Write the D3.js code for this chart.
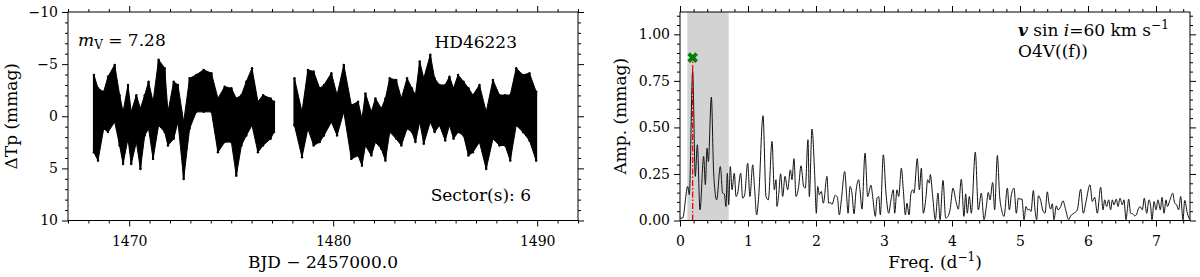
<!DOCTYPE html>
<html>
<head>
<meta charset="utf-8">
<script src="https://cdn.jsdelivr.net/npm/d3@7"></script>
<style>
  body { margin: 0; background: #fff; }
  svg { display: block; font-family: "DejaVu Serif", serif; }
  .tick text { font-family: "DejaVu Serif", serif; font-size: 14px; fill: #000; }
</style>
</head>
<body>
<svg id="chart" width="1200" height="277"></svg>
<script>
// light curve, read as the upper / lower edge of the point cloud per time step
const lcTime = [1468.27, 1468.47, 1468.75, 1468.96, 1469.29, 1469.53, 1469.70, 1469.94, 1470.10, 1470.35,
  1470.55, 1470.76, 1470.95, 1471.17, 1471.44, 1471.74, 1471.90, 1472.18, 1472.39, 1472.67,
  1472.96, 1473.29, 1473.65, 1474.03, 1474.35, 1474.68, 1475.01, 1475.25, 1475.50, 1475.74,
  1476.02, 1476.31, 1476.56, 1476.93, 1477.10,
  1478.10, 1478.47, 1478.76, 1479.04, 1479.34, 1479.55, 1479.91, 1480.19, 1480.52, 1480.89,
  1481.22, 1481.41, 1481.58, 1481.87, 1482.07, 1482.36, 1482.56, 1482.77, 1483.09, 1483.34,
  1483.62, 1483.86, 1484.03, 1484.24, 1484.44, 1484.76, 1484.97, 1485.21, 1485.49, 1485.70,
  1485.90, 1486.12, 1486.39, 1486.63, 1486.85, 1487.17, 1487.50, 1487.83, 1488.15, 1488.43,
  1488.68, 1488.97, 1489.30, 1489.62, 1489.95];
const lcTop = [-3.97, -2.68, -2.35, -3.80, -4.93, -2.03, -0.42, -3.00, -0.42, -2.03,
  -0.74, -2.03, -3.32, -1.39, -5.42, -4.61, -0.42, -3.32, -3.00, 0.55,
  -3.64, -3.97, -4.45, -4.13, -1.71, -2.84, -2.68, -1.71, -2.03, -3.32,
  -4.61, -1.39, -2.03, -1.71, -1.39,
  -3.64, -0.42, -4.45, -4.29, -2.68, -3.00, -4.13, -2.03, -4.93, -1.06,
  -1.39, 0.23, -2.19, -0.42, -1.71, -0.74, -1.71, -3.64, -3.48, -1.71,
  -3.64, -2.68, -2.03, -5.25, -3.64, -5.90, -3.64, -3.00, -3.00, -3.80,
  -2.68, -3.97, -3.32, -2.68, -2.03, -3.00, -0.42, -3.48, -2.03, -2.03,
  -2.03, -4.61, -3.97, -4.13, -2.35];
const lcBottom = [3.45, 4.26, 1.19, 1.52, 0.55, 2.80, 4.58, 2.16, 4.58, 2.48,
  5.06, 1.84, 1.19, 4.09, 0.87, 1.52, 2.80, 2.16, 0.55, 6.03,
  1.19, -0.42, -0.42, -0.42, 3.45, 2.48, 2.48, 5.71, 2.80, 1.84,
  0.87, 3.45, 2.80, 2.16, 1.52,
  0.87, 3.93, 1.19, 2.80, 2.48, 1.84, 0.55, 1.84, -0.42, 4.09,
  3.77, 4.74, 2.80, 3.77, 2.48, 3.13, 4.26, 1.52, 2.16, 2.80,
  1.19, 1.52, 2.48, 0.55, 2.64, 0.55, 1.52, 0.87, 2.32, 0.87,
  2.16, 1.52, 1.84, 3.77, 3.45, 2.48, 5.06, 2.16, 2.80, 2.80,
  4.26, 0.87, 1.52, 2.32, 4.26];

// amplitude spectrum
const freq = [0, 0.039, 0.113, 0.137, 0.186, 0.225, 0.255, 0.294, 0.348, 0.373,
  0.397, 0.417, 0.461, 0.495, 0.539, 0.593, 0.627, 0.652, 0.676, 0.696,
  0.716, 0.740, 0.765, 0.799, 0.824, 0.848, 0.892, 0.922, 0.951, 0.995,
  1.029, 1.069, 1.098, 1.127, 1.157, 1.221, 1.265, 1.299, 1.353, 1.387,
  1.412, 1.426, 1.451, 1.480, 1.510, 1.544, 1.583, 1.623, 1.647, 1.676,
  1.706, 1.745, 1.779, 1.819, 1.843, 1.882, 1.902, 1.941, 1.980, 2.005,
  2.025, 2.049, 2.078, 2.108, 2.162, 2.186, 2.211, 2.235, 2.284, 2.314,
  2.343, 2.373, 2.422, 2.451, 2.471, 2.500, 2.529, 2.559, 2.588, 2.627,
  2.647, 2.676, 2.721, 2.760, 2.809, 2.833, 2.873, 2.897, 2.922, 2.946,
  2.990, 3.029, 3.069, 3.103, 3.137, 3.157, 3.191, 3.216, 3.255, 3.284,
  3.314, 3.338, 3.368, 3.397, 3.422, 3.441, 3.490, 3.520, 3.549, 3.578,
  3.618, 3.642, 3.667, 3.681, 3.716, 3.755, 3.794, 3.824, 3.868, 3.907,
  3.941, 3.971, 4.015, 4.054, 4.093, 4.137, 4.176, 4.201, 4.225, 4.255,
  4.284, 4.343, 4.387, 4.431, 4.471, 4.505, 4.534, 4.559, 4.598, 4.627,
  4.667, 4.701, 4.730, 4.765, 4.814, 4.843, 4.873, 4.912, 4.946, 4.975,
  5.000, 5.029, 5.059, 5.088, 5.113, 5.137, 5.162, 5.196, 5.221, 5.245,
  5.270, 5.304, 5.333, 5.368, 5.402, 5.426, 5.451, 5.475, 5.500, 5.534,
  5.559, 5.598, 5.632, 5.672, 5.716, 5.745, 5.794, 5.843, 5.892, 5.931,
  5.971, 6.029, 6.064, 6.098, 6.137, 6.186, 6.221, 6.245, 6.275, 6.304,
  6.333, 6.358, 6.382, 6.417, 6.441, 6.471, 6.505, 6.529, 6.559, 6.578,
  6.598, 6.627, 6.657, 6.686, 6.711, 6.735, 6.765, 6.799, 6.828, 6.863,
  6.897, 6.922, 6.941, 6.971, 7.000, 7.029, 7.064, 7.088, 7.118, 7.147,
  7.167, 7.206, 7.245, 7.275, 7.304, 7.333, 7.363, 7.397, 7.422, 7.461, 7.500];
const amp = [0.013, 0.013, 0.183, 0.138, 0.801, 0.237, 0.407, 0.057, 0.344, 0.192,
  0.389, 0.317, 0.663, 0.254, 0.111, 0.290, 0.147, 0.143, 0.075, 0.254,
  0.084, 0.290, 0.165, 0.254, 0.129, 0.147, 0.254, 0.120, 0.138, 0.308,
  0.129, 0.299, 0.165, 0.030, 0.129, 0.563, 0.129, 0.111, 0.425, 0.165,
  0.219, 0.075, 0.138, 0.251, 0.129, 0.237, 0.165, 0.272, 0.219, 0.332,
  0.129, 0.183, 0.294, 0.183, 0.174, 0.434, 0.129, 0.491, 0.254, 0.039,
  0.183, 0.138, 0.156, 0.093, 0.237, 0.093, 0.097, 0.086, 0.136, 0.125,
  0.030, 0.111, 0.263, 0.129, 0.039, 0.183, 0.147, 0.036, 0.156, 0.219,
  0.165, 0.061, 0.362, 0.129, 0.190, 0.129, 0.022, 0.120, 0.129, 0.030,
  0.353, 0.147, 0.039, 0.111, 0.165, 0.039, 0.165, 0.129, 0.281, 0.165,
  0.030, 0.093, 0.030, 0.147, 0.165, 0.147, 0.332, 0.165, 0.281, 0.039,
  0.129, 0.219, 0.201, 0.247, 0.129, 0.004, 0.147, 0.004, 0.215, 0.013,
  0.022, 0.057, 0.174, 0.111, 0.061, 0.222, 0.022, 0.143, 0.039, 0.129,
  0.039, 0.367, 0.057, 0.147, 0.004, 0.075, 0.151, 0.111, 0.204, 0.057,
  0.349, 0.129, 0.057, 0.022, 0.174, 0.057, 0.138, 0.174, 0.039, 0.120,
  0.115, 0.115, 0.004, 0.075, 0.057, 0.061, 0.048, 0.161, 0.057, 0.004,
  0.133, 0.108, 0.057, 0.039, 0.154, 0.093, 0.061, 0.090, 0.004, 0.079,
  0.057, 0.075, 0.106, 0.057, 0.004, 0.025, 0.039, 0.057, 0.168, 0.039,
  0.102, 0.192, 0.102, 0.125, 0.039, 0.179, 0.057, 0.111, 0.075, 0.111,
  0.057, 0.111, 0.084, 0.115, 0.075, 0.120, 0.084, 0.111, 0.004, 0.057,
  0.115, 0.039, 0.036, 0.025, 0.030, 0.057, 0.075, 0.057, 0.120, 0.039,
  0.111, 0.075, 0.004, 0.102, 0.057, 0.111, 0.057, 0.124, 0.039, 0.111,
  0.075, 0.111, 0.147, 0.093, 0.084, 0.057, 0.129, 0.004, 0.108, 0.039, 0.004];

// marked frequency, shaded range
const peakFreq = 0.186;
const peakAmp = 0.875;
const peakLineTop = 0.86;
const shadeRange = [0.108, 0.716];

// ticks
const lcTimeTicks = [1470, 1480, 1490];
const lcMagTicks = [-10, -5, 0, 5, 10];
const freqTicks = [0, 1, 2, 3, 4, 5, 6, 7];
const ampTicks = [0, 0.25, 0.5, 0.75, 1.0];

const svg = d3.select('#chart');
const plotTop = 12, plotBottom = 220.5;

const xL = d3.scaleLinear().domain([1467, 1492]).range([68, 578]);
const yL = d3.scaleLinear().domain([-10, 10]).range([plotTop, plotBottom]);
const xR = d3.scaleLinear().domain([0, 7.5]).range([680, 1190]);
const yR = d3.scaleLinear().domain([0, 1.12]).range([plotBottom, plotTop]);

const minus = d => (d < 0 ? `\u2212${Math.abs(d)}` : `${d}`);

// ticks outside on all four sides, labels only bottom/left
const drawAxes = (x, y, xMajor, xMinor, yMajor, yMinor, xFmt, yFmt) => {
  const [x0, x1] = x.range();
  const g = svg.append('g');
  const add = (axis, tr) => {
    const a = g.append('g').attr('transform', tr).call(axis.tickSizeOuter(0));
    a.select('.domain').remove();
  };
  add(d3.axisBottom(x).tickValues(xMajor).tickSize(6).tickPadding(10).tickFormat(xFmt), `translate(0,${plotBottom})`);
  add(d3.axisBottom(x).tickValues(xMinor).tickSize(3).tickFormat(''), `translate(0,${plotBottom})`);
  add(d3.axisTop(x).tickValues(xMajor).tickSize(6).tickFormat(''), `translate(0,${plotTop})`);
  add(d3.axisTop(x).tickValues(xMinor).tickSize(3).tickFormat(''), `translate(0,${plotTop})`);
  add(d3.axisLeft(y).tickValues(yMajor).tickSize(6).tickPadding(4).tickFormat(yFmt), `translate(${x0},0)`);
  add(d3.axisLeft(y).tickValues(yMinor).tickSize(3).tickFormat(''), `translate(${x0},0)`);
  add(d3.axisRight(y).tickValues(yMajor).tickSize(6).tickFormat(''), `translate(${x1},0)`);
  add(d3.axisRight(y).tickValues(yMinor).tickSize(3).tickFormat(''), `translate(${x1},0)`);
  g.append('rect')
    .attr('x', x0).attr('y', plotTop)
    .attr('width', x1 - x0).attr('height', plotBottom - plotTop)
    .attr('fill', 'none').attr('stroke', '#000').attr('stroke-width', 1);
};

// ---------- left panel: light curve ----------
const lc = lcTime.map((t, i) => ({ t, lo: lcTop[i], hi: lcBottom[i] }));
const segments = [];
lc.forEach((d, i) => {
  if (i === 0 || d.t - lc[i - 1].t > 0.5) segments.push([]);
  segments[segments.length - 1].push(d);
});
const lcG = svg.append('g');
// dense body of the cloud
lcG.selectAll('path')
  .data(segments)
  .enter()
  .append('path')
  .attr('d', d3.area().x(d => xL(d.t)).y0(d => yL(d.lo)).y1(d => yL(d.hi)))
  .attr('fill', '#000')
  .attr('stroke', '#000')
  .attr('stroke-width', 1);
// streak at each time step, with its end points
lcG.selectAll('line')
  .data(lc)
  .enter()
  .append('line')
  .attr('x1', d => xL(d.t)).attr('x2', d => xL(d.t))
  .attr('y1', d => yL(d.lo)).attr('y2', d => yL(d.hi))
  .attr('stroke', '#000')
  .attr('stroke-width', 2);
lcG.selectAll('circle')
  .data(lc.flatMap(d => [[d.t, d.lo], [d.t, d.hi]]))
  .enter()
  .append('circle')
  .attr('cx', d => xL(d[0]))
  .attr('cy', d => yL(d[1]))
  .attr('r', 1.2)
  .attr('fill', '#000');

drawAxes(xL, yL, lcTimeTicks, d3.range(1467, 1493).filter(v => v % 10 !== 0),
  lcMagTicks, d3.range(-10, 11).filter(v => v % 5 !== 0), d3.format('d'), minus);

svg.append('text')
  .attr('x', 78).attr('y', 46)
  .attr('font-size', 17)
  .call(t => {
    t.append('tspan').attr('font-style', 'italic').text('m');
    t.append('tspan').attr('font-size', 12).attr('dy', 3).text('V');
    t.append('tspan').attr('dy', -3).text(' = 7.28');
  });
svg.append('text')
  .attr('x', 517).attr('y', 48)
  .attr('text-anchor', 'end')
  .attr('font-size', 17)
  .text('HD46223');
svg.append('text')
  .attr('x', 531).attr('y', 201)
  .attr('text-anchor', 'end')
  .attr('font-size', 17)
  .text('Sector(s): 6');
svg.append('text')
  .attr('x', 323).attr('y', 268)
  .attr('text-anchor', 'middle')
  .attr('font-size', 17)
  .text('BJD \u2212 2457000.0');
svg.append('text')
  .attr('transform', `translate(17,${(plotTop + plotBottom) / 2}) rotate(-90)`)
  .attr('text-anchor', 'middle')
  .attr('font-size', 17)
  .text('\u0394Tp (mmag)');

// ---------- right panel: amplitude spectrum ----------
svg.append('rect')
  .attr('x', xR(shadeRange[0])).attr('y', plotTop)
  .attr('width', xR(shadeRange[1]) - xR(shadeRange[0]))
  .attr('height', plotBottom - plotTop)
  .attr('fill', '#d3d3d3');

const spec = freq.map((f, i) => ({ f, a: amp[i] }));
svg.append('path')
  .datum(spec)
  .attr('d', d3.line().x(d => xR(d.f)).y(d => yR(d.a)).curve(d3.curveMonotoneX))
  .attr('fill', 'none')
  .attr('stroke', '#111')
  .attr('stroke-width', 1)
  .attr('stroke-linejoin', 'round');

svg.append('line')
  .attr('x1', xR(peakFreq)).attr('x2', xR(peakFreq))
  .attr('y1', yR(0)).attr('y2', yR(peakLineTop))
  .attr('stroke', '#ff0000')
  .attr('stroke-width', 1.3)
  .attr('stroke-dasharray', '6,2,1.5,2');

svg.append('path')
  .attr('d', d3.symbol(d3.symbolCross, 70)())
  .attr('transform', `translate(${xR(peakFreq)},${yR(peakAmp)}) rotate(45)`)
  .attr('fill', '#008000');

drawAxes(xR, yR, freqTicks, d3.range(0, 38).map(i => i * 0.2).filter(v => Math.abs(v - Math.round(v)) > 1e-6),
  ampTicks, d3.range(0, 23).map(i => i * 0.05).filter(v => Math.abs(v * 4 - Math.round(v * 4)) > 1e-6),
  d3.format('d'), d3.format('.2f'));

svg.append('text')
  .attr('x', 1018).attr('y', 36)
  .attr('font-size', 17)
  .call(t => {
    t.append('tspan').attr('font-style', 'italic').attr('font-weight', 'bold').text('v');
    t.append('tspan').text(' sin ');
    t.append('tspan').attr('font-style', 'italic').text('i');
    t.append('tspan').text('=60 km s');
    t.append('tspan').attr('font-size', 12).attr('dy', -7).text('\u22121');
  });
svg.append('text')
  .attr('x', 1018).attr('y', 57)
  .attr('font-size', 17)
  .text('O4V((f))');
svg.append('text')
  .attr('x', 935).attr('y', 268)
  .attr('text-anchor', 'middle')
  .attr('font-size', 17)
  .call(t => {
    t.append('tspan').text('Freq. (d');
    t.append('tspan').attr('font-size', 12).attr('dy', -7).text('\u22121');
    t.append('tspan').attr('dy', 7).text(')');
  });
svg.append('text')
  .attr('transform', `translate(626,${(plotTop + plotBottom) / 2}) rotate(-90)`)
  .attr('text-anchor', 'middle')
  .attr('font-size', 17)
  .text('Amp. (mmag)');
</script>
</body>
</html>
